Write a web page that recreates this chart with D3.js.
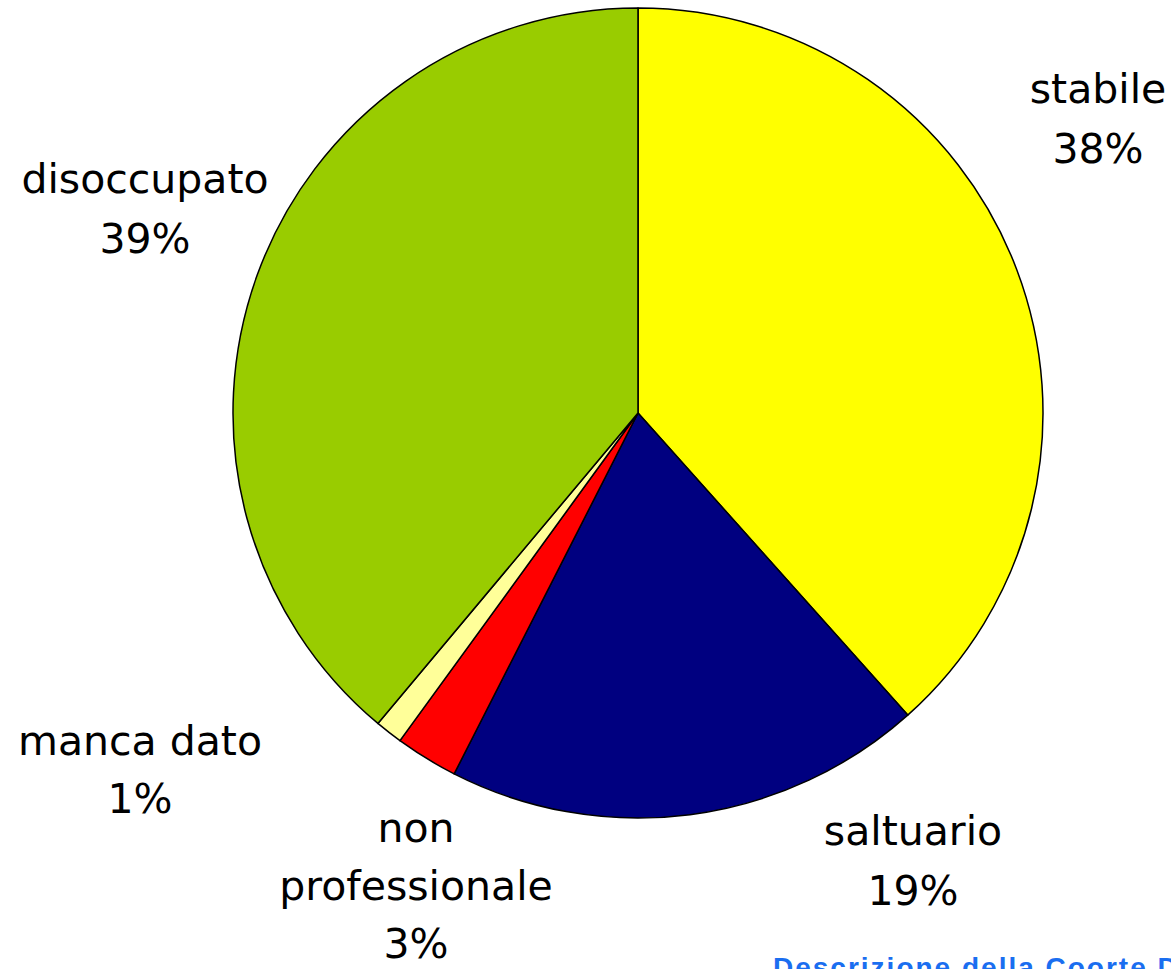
<!DOCTYPE html>
<html>
    <head>
        <meta charset="utf-8">
        <title>Pie</title>
        <script src="https://d3js.org/d3.v7.min.js"></script>
        <style>
            body { margin: 0; background: #fff; }
            .lbl { font-family: "DejaVu Sans", sans-serif; font-size: 41px; fill: #000; }
            .foot { font-family: "Liberation Sans", Arial, sans-serif; font-weight: bold; font-size: 28px; fill: #1a6ef0; letter-spacing: 2px; }
        </style>
    </head>
    <body>
        <svg width="1171" height="969"></svg>
        <script>
            // data, clockwise from 12 o'clock
            var categories = ["stabile", "saltuario", "non professionale", "manca dato", "disoccupato"];
            var values = [38.4, 19.1, 2.5, 1.1, 38.9];
            var percentLabels = ["38%", "19%", "3%", "1%", "39%"];
            var colors = ["#ffff00", "#000080", "#ff0000", "#ffff99", "#99cc00"];

            // label anchor points (centre x, first baseline y) and line breaks
            var labelLines = [["stabile"], ["saltuario"], ["non", "professionale"], ["manca dato"], ["disoccupato"]];
            var labelPos = [[1098, 103], [913, 845], [416, 842], [140, 755], [145, 193]];
            var lineStep = [60, 60, 58, 58, 60];

            var cx = 638, cy = 413, radius = 405;
            var svg = d3.select("svg");

            var pie = d3.pie().sort(null).value(d => d.v);
            var arc = d3.arc().innerRadius(0).outerRadius(radius);

            var rows = values.map((v, i) => ({v: v, i: i}));

            var g = svg.append("g")
                .attr("transform", "translate(" + cx + "," + cy + ")");

            g.selectAll("path")
                .data(pie(rows))
              .enter().append("path")
                .attr("d", arc)
                .attr("fill", d => colors[d.data.i])
                .attr("stroke", "#000")
                .attr("stroke-width", 1.5)
                .attr("stroke-linejoin", "round");

            rows.forEach(function(r) {
                var lines = labelLines[r.i].concat([percentLabels[r.i]]);
                var t = svg.append("text")
                    .attr("class", "lbl")
                    .attr("text-anchor", "middle");
                lines.forEach(function(s, k) {
                    t.append("tspan")
                        .attr("x", labelPos[r.i][0])
                        .attr("y", labelPos[r.i][1] + k * lineStep[r.i])
                        .text(s);
                });
            });

            // footer, cut by the bottom edge as in the original slide
            svg.append("text")
                .attr("class", "foot")
                .attr("x", 773)
                .attr("y", 977)
                .text("Descrizione della Coorte Dei Pazienti");
        </script>
    </body>
</html>
